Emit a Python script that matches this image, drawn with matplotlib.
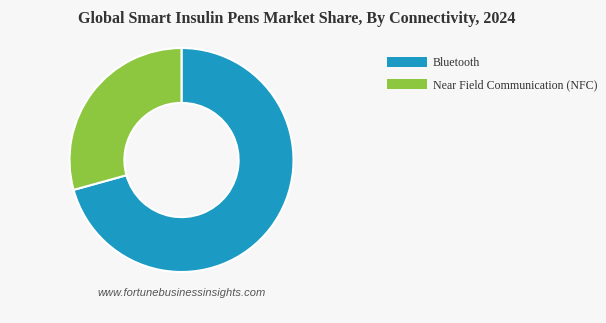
import matplotlib
matplotlib.use("Agg")
import matplotlib.pyplot as plt
from matplotlib.patches import Patch

categories = ["Bluetooth", "Near Field Communication (NFC)"]
shares = [70.7, 29.3]
colors = ["#1b9ac3", "#8dc63f"]
title = "Global Smart Insulin Pens Market Share, By Connectivity, 2024"
watermark = "www.fortunebusinessinsights.com"

W, H = 606, 323
fig = plt.figure(figsize=(W / 100, H / 100), dpi=100)
fig.patch.set_facecolor("#f7f7f7")

cx, cy, r = 181.5, 160, 112
ax = fig.add_axes([(cx - r) / W, (H - cy - r) / H, 2 * r / W, 2 * r / H])
ax.set_facecolor("#f7f7f7")
ax.pie(shares, colors=colors, startangle=90, counterclock=False, radius=1,
       wedgeprops=dict(width=0.49, edgecolor="white", linewidth=1.5))
ax.set_xlim(-1.0, 1.0)
ax.set_ylim(-1.0, 1.0)
ax.set_aspect("equal")
ax.axis("off")

fig.text(0.5 * (79 + 515) / W, 1 - 19 / H, title, ha="center", va="center",
         fontsize=11.5, fontweight="bold", family="Liberation Serif", color="#333333")

handles = [Patch(facecolor=c, edgecolor="none") for c in colors]
fig.legend(handles, categories, loc="upper left", bbox_to_anchor=(382 / W, 1 - 52 / H),
           frameon=False, prop=dict(family="Liberation Serif", size=8.6),
           handlelength=3.4, handleheight=0.9, handletextpad=0.45, labelspacing=0.85,
           labelcolor="#333333", borderaxespad=0)

fig.text(182 / W, 1 - 293 / H, watermark, ha="center", va="center", fontsize=8,
         style="italic", family="Liberation Sans", color="#555555")

fig.savefig("out.png", dpi=100, facecolor=fig.get_facecolor())
